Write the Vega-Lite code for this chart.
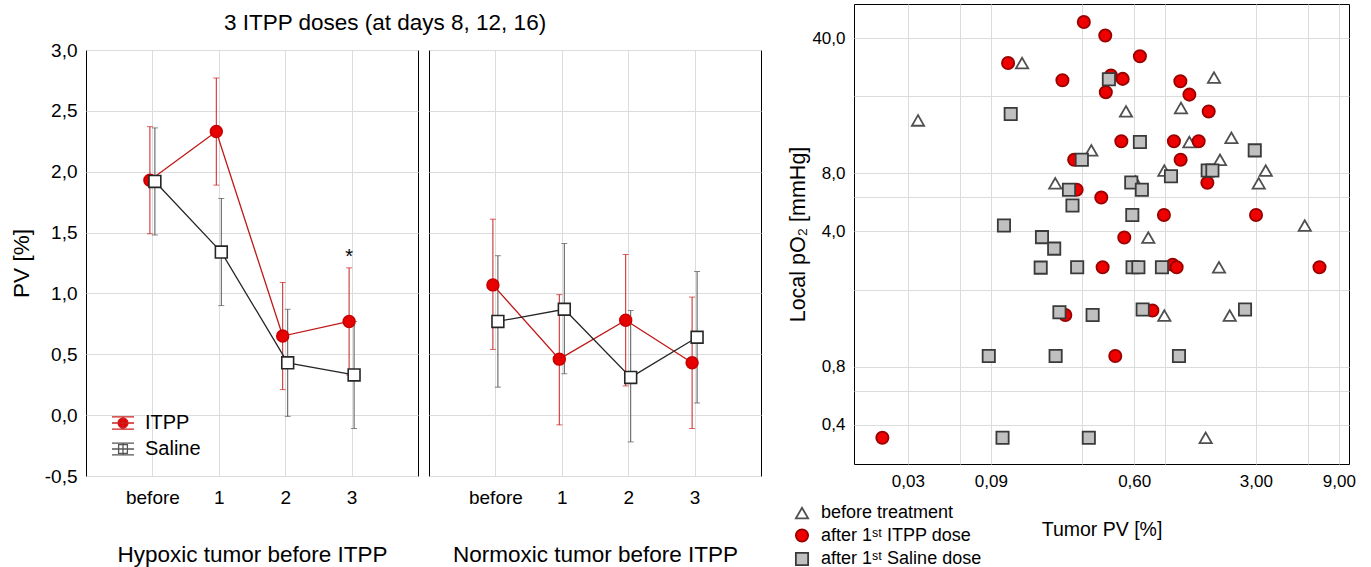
{
  "$schema": "https://vega.github.io/schema/vega-lite/v6.json",
  "padding": {"left": 9, "top": 3, "right": 5, "bottom": 0},
  "spacing": 25,
  "datasets": {
    "pv": [
      {"panel": "Hypoxic", "group": "ITPP", "time": "before", "mean": 1.93, "lo": 1.49, "hi": 2.37},
      {"panel": "Hypoxic", "group": "ITPP", "time": "1", "mean": 2.33, "lo": 1.89, "hi": 2.77},
      {"panel": "Hypoxic", "group": "ITPP", "time": "2", "mean": 0.65, "lo": 0.21, "hi": 1.09},
      {"panel": "Hypoxic", "group": "ITPP", "time": "3", "mean": 0.77, "lo": 0.33, "hi": 1.21},
      {"panel": "Hypoxic", "group": "Saline", "time": "before", "mean": 1.92, "lo": 1.48, "hi": 2.36},
      {"panel": "Hypoxic", "group": "Saline", "time": "1", "mean": 1.34, "lo": 0.90, "hi": 1.78},
      {"panel": "Hypoxic", "group": "Saline", "time": "2", "mean": 0.43, "lo": -0.01, "hi": 0.87},
      {"panel": "Hypoxic", "group": "Saline", "time": "3", "mean": 0.33, "lo": -0.11, "hi": 0.77},
      {"panel": "Normoxic", "group": "ITPP", "time": "before", "mean": 1.07, "lo": 0.54, "hi": 1.61},
      {"panel": "Normoxic", "group": "ITPP", "time": "1", "mean": 0.46, "lo": -0.08, "hi": 0.99},
      {"panel": "Normoxic", "group": "ITPP", "time": "2", "mean": 0.78, "lo": 0.24, "hi": 1.32},
      {"panel": "Normoxic", "group": "ITPP", "time": "3", "mean": 0.43, "lo": -0.11, "hi": 0.97},
      {"panel": "Normoxic", "group": "Saline", "time": "before", "mean": 0.77, "lo": 0.23, "hi": 1.31},
      {"panel": "Normoxic", "group": "Saline", "time": "1", "mean": 0.87, "lo": 0.34, "hi": 1.41},
      {"panel": "Normoxic", "group": "Saline", "time": "2", "mean": 0.31, "lo": -0.22, "hi": 0.86},
      {"panel": "Normoxic", "group": "Saline", "time": "3", "mean": 0.64, "lo": 0.10, "hi": 1.18}
    ],
    "note": [
      {"panel": "Hypoxic", "group": "ITPP", "time": "3", "y": 1.21, "label": "*"}
    ],
    "po2": [
      {"group": "before", "pv": 0.136, "po2": 29.7},
      {"group": "before", "pv": 0.0343, "po2": 15.0},
      {"group": "before", "pv": 0.211, "po2": 7.10},
      {"group": "before", "pv": 1.725, "po2": 25.0},
      {"group": "before", "pv": 0.538, "po2": 16.7},
      {"group": "before", "pv": 1.114, "po2": 17.4},
      {"group": "before", "pv": 1.245, "po2": 11.6},
      {"group": "before", "pv": 2.172, "po2": 12.2},
      {"group": "before", "pv": 0.340, "po2": 10.5},
      {"group": "before", "pv": 1.868, "po2": 9.39},
      {"group": "before", "pv": 0.894, "po2": 8.26},
      {"group": "before", "pv": 3.421, "po2": 8.26},
      {"group": "before", "pv": 3.118, "po2": 7.10},
      {"group": "before", "pv": 0.611, "po2": 7.25},
      {"group": "before", "pv": 5.735, "po2": 4.29},
      {"group": "before", "pv": 0.723, "po2": 3.72},
      {"group": "before", "pv": 1.843, "po2": 2.61},
      {"group": "before", "pv": 0.894, "po2": 1.47},
      {"group": "before", "pv": 2.124, "po2": 1.47},
      {"group": "before", "pv": 1.545, "po2": 0.343},
      {"group": "ITPP", "pv": 0.113, "po2": 29.7},
      {"group": "ITPP", "pv": 0.232, "po2": 24.2},
      {"group": "ITPP", "pv": 0.308, "po2": 48.4},
      {"group": "ITPP", "pv": 0.409, "po2": 41.2},
      {"group": "ITPP", "pv": 0.647, "po2": 32.2},
      {"group": "ITPP", "pv": 0.441, "po2": 25.6},
      {"group": "ITPP", "pv": 0.515, "po2": 24.6},
      {"group": "ITPP", "pv": 0.412, "po2": 21.0},
      {"group": "ITPP", "pv": 1.105, "po2": 23.9},
      {"group": "ITPP", "pv": 1.245, "po2": 20.4},
      {"group": "ITPP", "pv": 1.608, "po2": 16.7},
      {"group": "ITPP", "pv": 0.506, "po2": 11.7},
      {"group": "ITPP", "pv": 1.015, "po2": 11.7},
      {"group": "ITPP", "pv": 1.408, "po2": 11.7},
      {"group": "ITPP", "pv": 0.271, "po2": 9.39},
      {"group": "ITPP", "pv": 1.109, "po2": 9.39},
      {"group": "ITPP", "pv": 1.580, "po2": 7.14},
      {"group": "ITPP", "pv": 0.280, "po2": 6.57},
      {"group": "ITPP", "pv": 0.388, "po2": 5.99},
      {"group": "ITPP", "pv": 0.889, "po2": 4.87},
      {"group": "ITPP", "pv": 3.009, "po2": 4.87},
      {"group": "ITPP", "pv": 0.526, "po2": 3.72},
      {"group": "ITPP", "pv": 0.395, "po2": 2.61},
      {"group": "ITPP", "pv": 0.998, "po2": 2.69},
      {"group": "ITPP", "pv": 1.052, "po2": 2.61},
      {"group": "ITPP", "pv": 6.97, "po2": 2.61},
      {"group": "ITPP", "pv": 0.241, "po2": 1.48},
      {"group": "ITPP", "pv": 0.763, "po2": 1.56},
      {"group": "ITPP", "pv": 0.467, "po2": 0.908},
      {"group": "ITPP", "pv": 0.0214, "po2": 0.343},
      {"group": "Saline", "pv": 0.117, "po2": 16.2},
      {"group": "Saline", "pv": 0.253, "po2": 6.57},
      {"group": "Saline", "pv": 0.265, "po2": 5.45},
      {"group": "Saline", "pv": 0.107, "po2": 4.29},
      {"group": "Saline", "pv": 0.177, "po2": 3.74},
      {"group": "Saline", "pv": 0.208, "po2": 3.26},
      {"group": "Saline", "pv": 0.429, "po2": 24.5},
      {"group": "Saline", "pv": 0.647, "po2": 11.6},
      {"group": "Saline", "pv": 2.958, "po2": 10.5},
      {"group": "Saline", "pv": 0.300, "po2": 9.39},
      {"group": "Saline", "pv": 0.976, "po2": 7.72},
      {"group": "Saline", "pv": 1.587, "po2": 8.26},
      {"group": "Saline", "pv": 1.689, "po2": 8.26},
      {"group": "Saline", "pv": 0.577, "po2": 7.17},
      {"group": "Saline", "pv": 0.664, "po2": 6.57},
      {"group": "Saline", "pv": 0.585, "po2": 4.87},
      {"group": "Saline", "pv": 0.174, "po2": 2.60},
      {"group": "Saline", "pv": 0.282, "po2": 2.61},
      {"group": "Saline", "pv": 0.587, "po2": 2.61},
      {"group": "Saline", "pv": 0.634, "po2": 2.61},
      {"group": "Saline", "pv": 0.866, "po2": 2.61},
      {"group": "Saline", "pv": 0.223, "po2": 1.53},
      {"group": "Saline", "pv": 0.346, "po2": 1.48},
      {"group": "Saline", "pv": 0.671, "po2": 1.58},
      {"group": "Saline", "pv": 2.601, "po2": 1.58},
      {"group": "Saline", "pv": 0.0875, "po2": 0.908},
      {"group": "Saline", "pv": 0.212, "po2": 0.908},
      {"group": "Saline", "pv": 1.085, "po2": 0.908},
      {"group": "Saline", "pv": 0.105, "po2": 0.343},
      {"group": "Saline", "pv": 0.329, "po2": 0.343}
    ]
  },
  "hconcat": [
    {
      "spacing": 5,
      "vconcat": [
        {
          "width": 598,
          "height": 1,
          "data": {"values": []},
          "mark": {"type": "point"},
          "view": {"stroke": null},
          "title": {"text": "3 ITPP doses (at days 8, 12, 16)", "orient": "bottom", "fontSize": 22.5, "offset": 7, "anchor": "middle"}
        },
        {
          "spacing": 9,
          "hconcat": [
            {
              "width": 332,
              "height": 426,
              "data": {"name": "pv"},
              "transform": [{"filter": "datum.panel == 'Hypoxic'"}],
              "encoding": {
                "x": {"field": "time", "type": "nominal", "sort": ["before", "1", "2", "3"], "scale": {"type": "point", "padding": 1},
                      "axis": {"title": "Hypoxic tumor before ITPP", "labelAngle": 0, "labelFontSize": 19, "labelPadding": 12, "titleFontSize": 22.5, "titlePadding": 36}},
                "xOffset": {"field": "group", "type": "nominal", "scale": {"domain": ["ITPP", "Saline"], "range": [-5, 5]}}
              },
              "layer": [
                {
                  "mark": {"type": "rule", "strokeWidth": 1},
                  "encoding": {
                    "y": {"field": "lo", "type": "quantitative", "scale": {"domain": [-0.5, 3], "nice": false, "zero": false},
                          "axis": {"title": "PV [%]", "values": [-0.5, 0, 0.5, 1, 1.5, 2, 2.5, 3], "format": ".1f", "labelFontSize": 19, "labelPadding": 9, "titleFontSize": 22.5, "titlePadding": 11, "labelFlush": false}},
                    "y2": {"field": "hi"},
                    "color": {"field": "group", "type": "nominal", "scale": {"domain": ["ITPP", "Saline"], "range": ["#cc2020", "#555555"]}, "legend": null}
                  }
                },
                {
                  "mark": {"type": "tick", "thickness": 1, "size": 6},
                  "encoding": {
                    "y": {"field": "lo", "type": "quantitative", "axis": {"title": "PV [%]"}},
                    "color": {"field": "group", "type": "nominal", "scale": {"domain": ["ITPP", "Saline"], "range": ["#cc2020", "#555555"]}, "legend": null}
                  }
                },
                {
                  "mark": {"type": "tick", "thickness": 1, "size": 6},
                  "encoding": {
                    "y": {"field": "hi", "type": "quantitative", "axis": {"title": "PV [%]"}},
                    "color": {"field": "group", "type": "nominal", "scale": {"domain": ["ITPP", "Saline"], "range": ["#cc2020", "#555555"]}, "legend": null}
                  }
                },
                {
                  "mark": {"type": "line", "strokeWidth": 1.3},
                  "encoding": {
                    "y": {"field": "mean", "type": "quantitative", "axis": {"title": "PV [%]"}},
                    "color": {"field": "group", "type": "nominal", "scale": {"domain": ["ITPP", "Saline"], "range": ["#c01818", "#262626"]}, "legend": null},
                    "order": {"value": null}
                  }
                },
                {
                  "mark": {"type": "point", "size": 140, "strokeWidth": 1.6, "opacity": 1},
                  "encoding": {
                    "y": {"field": "mean", "type": "quantitative", "axis": {"title": "PV [%]"}},
                    "shape": {"field": "group", "type": "nominal", "scale": {"domain": ["ITPP", "Saline"], "range": ["circle", "square"]}, "legend": null},
                    "fill": {"field": "group", "type": "nominal", "scale": {"domain": ["ITPP", "Saline"], "range": ["#e60000", "#ffffff"]}, "legend": null},
                    "stroke": {"field": "group", "type": "nominal", "scale": {"domain": ["ITPP", "Saline"], "range": ["#c80000", "#262626"]}, "legend": null}
                  }
                },
                {
                  "transform": [{"filter": "datum.mean > 100"}],
                  "mark": {"type": "point", "opacity": 1},
                  "encoding": {
                    "y": {"field": "mean", "type": "quantitative", "axis": {"title": "PV [%]"}},
                    "shape": {"field": "group", "type": "nominal",
                              "scale": {"domain": ["ITPP", "Saline"], "range": ["M-1,-0.55H1M-1,0.55H1M0,-0.55V0.55M-1,0H1M0.45,0A0.45,0.45 0 1,1 -0.45,0A0.45,0.45 0 1,1 0.45,0Z", "M-1,-0.53H1M-1,0.53H1M0,-0.53V0.53M-1,0H1M-0.4,-0.4H0.4V0.4H-0.4Z"]},
                              "legend": {"title": null, "orient": "none", "legendX": 25, "legendY": 361, "labelFontSize": 20, "symbolSize": 484, "symbolStrokeWidth": 1.3, "rowPadding": 4, "labelOffset": 10}},
                    "fill": {"field": "group", "type": "nominal", "scale": {"domain": ["ITPP", "Saline"], "range": ["#e60000", "#ffffff"]}},
                    "stroke": {"field": "group", "type": "nominal", "scale": {"domain": ["ITPP", "Saline"], "range": ["#cc2020", "#555555"]}}
                  }
                },
                {
                  "data": {"name": "note"},
                  "mark": {"type": "text", "fontSize": 20, "baseline": "bottom", "dy": -1, "color": "#000000"},
                  "encoding": {
                    "y": {"field": "y", "type": "quantitative", "axis": {"title": "PV [%]"}},
                    "text": {"field": "label"}
                  }
                }
              ],
              "resolve": {"scale": {"color": "independent", "shape": "independent", "fill": "independent", "stroke": "independent"}}
            },
            {
              "width": 332,
              "height": 426,
              "data": {"name": "pv"},
              "transform": [{"filter": "datum.panel == 'Normoxic'"}],
              "encoding": {
                "x": {"field": "time", "type": "nominal", "sort": ["before", "1", "2", "3"], "scale": {"type": "point", "padding": 1},
                      "axis": {"title": "Normoxic tumor before ITPP", "labelAngle": 0, "labelFontSize": 19, "labelPadding": 12, "titleFontSize": 22.5, "titlePadding": 36}},
                "xOffset": {"field": "group", "type": "nominal", "scale": {"domain": ["ITPP", "Saline"], "range": [-5, 5]}}
              },
              "layer": [
                {
                  "mark": {"type": "rule", "strokeWidth": 1},
                  "encoding": {
                    "y": {"field": "lo", "type": "quantitative", "scale": {"domain": [-0.5, 3], "nice": false, "zero": false},
                          "axis": {"title": null, "values": [-0.5, 0, 0.5, 1, 1.5, 2, 2.5, 3], "labels": false}},
                    "y2": {"field": "hi"},
                    "color": {"field": "group", "type": "nominal", "scale": {"domain": ["ITPP", "Saline"], "range": ["#cc2020", "#555555"]}, "legend": null}
                  }
                },
                {
                  "mark": {"type": "tick", "thickness": 1, "size": 6},
                  "encoding": {
                    "y": {"field": "lo", "type": "quantitative", "axis": {"title": null, "labels": false}},
                    "color": {"field": "group", "type": "nominal", "scale": {"domain": ["ITPP", "Saline"], "range": ["#cc2020", "#555555"]}, "legend": null}
                  }
                },
                {
                  "mark": {"type": "tick", "thickness": 1, "size": 6},
                  "encoding": {
                    "y": {"field": "hi", "type": "quantitative", "axis": {"title": null, "labels": false}},
                    "color": {"field": "group", "type": "nominal", "scale": {"domain": ["ITPP", "Saline"], "range": ["#cc2020", "#555555"]}, "legend": null}
                  }
                },
                {
                  "mark": {"type": "line", "strokeWidth": 1.3},
                  "encoding": {
                    "y": {"field": "mean", "type": "quantitative", "axis": {"title": null, "labels": false}},
                    "color": {"field": "group", "type": "nominal", "scale": {"domain": ["ITPP", "Saline"], "range": ["#c01818", "#262626"]}, "legend": null},
                    "order": {"value": null}
                  }
                },
                {
                  "mark": {"type": "point", "size": 140, "strokeWidth": 1.6, "opacity": 1},
                  "encoding": {
                    "y": {"field": "mean", "type": "quantitative", "axis": {"title": null, "labels": false}},
                    "shape": {"field": "group", "type": "nominal", "scale": {"domain": ["ITPP", "Saline"], "range": ["circle", "square"]}, "legend": null},
                    "fill": {"field": "group", "type": "nominal", "scale": {"domain": ["ITPP", "Saline"], "range": ["#e60000", "#ffffff"]}, "legend": null},
                    "stroke": {"field": "group", "type": "nominal", "scale": {"domain": ["ITPP", "Saline"], "range": ["#c80000", "#262626"]}, "legend": null}
                  }
                }
              ],
              "resolve": {"scale": {"color": "independent", "shape": "independent", "fill": "independent", "stroke": "independent"}}
            }
          ]
        }
      ]
    },
    {
      "width": 495,
      "height": 460,
      "data": {"name": "po2"},
      "mark": {"type": "point", "size": 150, "strokeWidth": 1.8, "opacity": 1},
      "encoding": {
        "x": {"field": "pv", "type": "quantitative", "scale": {"type": "log", "domain": [0.0147, 10.3], "nice": false},
              "axis": {"title": "Tumor PV [%]", "values": [0.03, 0.06, 0.09, 0.3, 0.6, 0.9, 3, 6, 9], "format": ".2f",
                       "labelExpr": "indexof([0.03, 0.09, 0.6, 3, 9], datum.value) >= 0 ? datum.label : ''",
                       "labelFontSize": 17, "labelPadding": 9, "titleFontSize": 19.5, "titlePadding": 31, "labelFlush": false, "labelOverlap": false}},
        "y": {"field": "po2", "type": "quantitative", "scale": {"type": "log", "domain": [0.251, 60], "nice": false},
              "axis": {"title": "Local pO₂ [mmHg]", "values": [0.4, 0.6, 0.8, 2, 4, 6, 8, 20, 40], "format": ".1f",
                       "labelExpr": "indexof([0.4, 0.8, 4, 8, 40], datum.value) >= 0 ? datum.label : ''",
                       "labelFontSize": 17, "labelPadding": 9, "titleFontSize": 21.5, "titlePadding": 2, "labelFlush": false, "labelOverlap": false}},
        "shape": {"field": "group", "type": "nominal", "scale": {"domain": ["before", "ITPP", "Saline"], "range": ["triangle-up", "circle", "square"]},
                  "legend": {"title": null, "orient": "none", "legendX": 707, "legendY": 500, "labelFontSize": 18, "labelLimit": 400, "symbolSize": 150, "symbolStrokeWidth": 1.8, "rowPadding": 3.5, "labelOffset": 10,
                             "labelExpr": "datum.label == 'before' ? 'before treatment' : datum.label == 'ITPP' ? 'after 1ˢᵗ ITPP dose' : 'after 1ˢᵗ Saline dose'"}},
        "fill": {"field": "group", "type": "nominal", "scale": {"domain": ["before", "ITPP", "Saline"], "range": ["#ffffff", "#ee0000", "#c0c0c0"]}},
        "stroke": {"field": "group", "type": "nominal", "scale": {"domain": ["before", "ITPP", "Saline"], "range": ["#505050", "#990000", "#3a3a3a"]}}
      }
    }
  ],
  "config": {
    "font": "Liberation Sans",
    "view": {"stroke": "#000000", "strokeWidth": 1},
    "axis": {"grid": true, "gridColor": "#dcdcdc", "gridWidth": 1, "domain": false, "ticks": false, "tickSize": 0,
             "labelColor": "#000000", "titleColor": "#000000", "titleFontWeight": "normal", "labelFont": "Liberation Sans", "titleFont": "Liberation Sans"},
    "legend": {"labelColor": "#000000", "labelFont": "Liberation Sans"},
    "title": {"font": "Liberation Sans", "fontWeight": "normal", "color": "#000000"},
    "locale": {"number": {"decimal": ",", "thousands": ".", "grouping": [3], "currency": ["", ""], "minus": "-"}}
  }
}
